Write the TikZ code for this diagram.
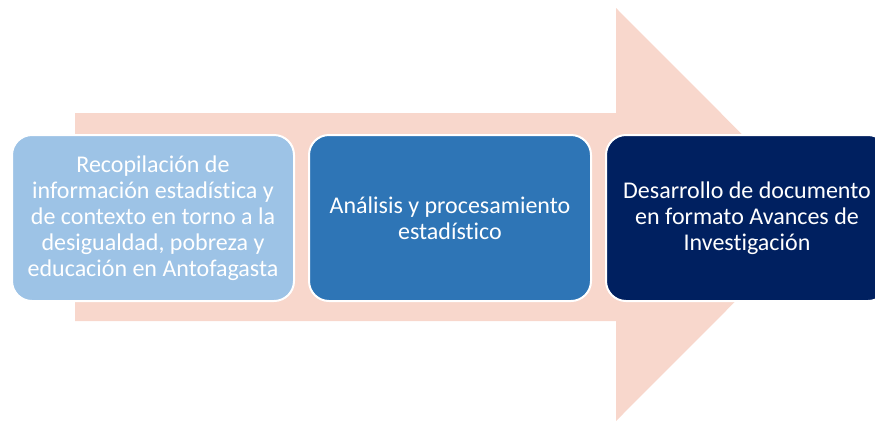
\documentclass[tikz,border=0pt]{standalone}
\usepackage{fontspec}
\setmainfont{Carlito}[Ligatures=NoCommon]
\usetikzlibrary{positioning}

\definecolor{arrowpink}{HTML}{F8D7CC}
\definecolor{boxlight}{HTML}{9DC3E6}
\definecolor{boxmid}{HTML}{2E75B6}
\definecolor{boxdark}{HTML}{002060}

\begin{document}
\begin{tikzpicture}[x=1pt, y=-1pt,
    stage/.style={draw=white, line width=2pt, rounded corners=20pt,
      minimum width=282pt, minimum height=166pt, align=center,
      text=white, font=\fontsize{24}{26}\selectfont}]
    \useasboundingbox (0,0) rectangle (875,421);
    \clip (0,0) rectangle (875,421);
    % big background arrow
    \fill[arrowpink] (75,113) -- (616,113) -- (616,8) -- (822,214.5)
      -- (616,421) -- (616,321) -- (75,321) -- cycle;
    \node[stage, fill=boxlight, anchor=north west] (a) at (11,134)
      {Recopilación de\\información estadística y\\de contexto en torno a la\\desigualdad, pobreza y\\educación en Antofagasta};
    \node[stage, fill=boxmid, right=13pt of a] (b)
      {Análisis y procesamiento\\estadístico};
    \node[stage, fill=boxdark, right=13pt of b] (c)
      {Desarrollo de documento\\en formato Avances de\\Investigación};
  \end{tikzpicture}
\end{document}
